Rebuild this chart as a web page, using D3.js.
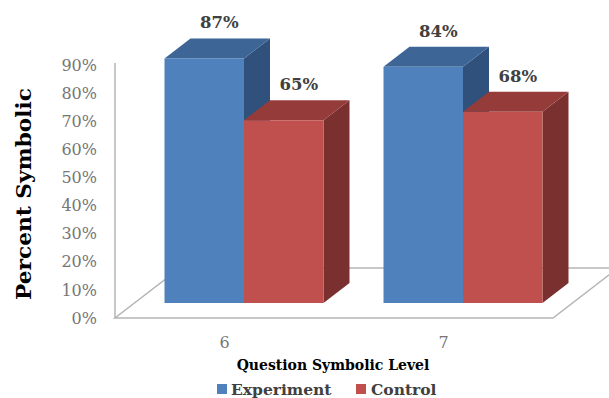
<!DOCTYPE html>
<html>
<head>
<meta charset="utf-8">
<script src="https://cdn.jsdelivr.net/npm/d3@7/dist/d3.min.js"></script>
<style>
  html, body { margin: 0; padding: 0; background: #ffffff; }
  svg { display: block; }
</style>
</head>
<body>
<svg id="chart" width="609" height="398"></svg>
<script>
// ---- data ----
const categories = ["6", "7"];
const seriesNames = ["Experiment", "Control"];
const experimentValues = [0.87, 0.84];
const controlValues = [0.65, 0.68];
const yTickValues = [0, 0.1, 0.2, 0.3, 0.4, 0.5, 0.6, 0.7, 0.8, 0.9];
const yTitle = "Percent Symbolic";
const xTitle = "Question Symbolic Level";

// ---- styles ----
const colors = {
  Experiment: { front: "#4f81bd", top: "#3d6596", side: "#30517c" },
  Control:    { front: "#c0504d", top: "#953c3a", side: "#7a302e" }
};
const serifFont = "'DejaVu Serif', 'Liberation Serif', serif";

const svg = d3.select("#chart");

// scales (front plane)
const x = d3.scaleBand().domain(categories).range([115, 553])
  .paddingInner(0.274).paddingOuter(0.137);
const xs = d3.scaleBand().domain(seriesNames).range([0, x.bandwidth()]);
const y = d3.scaleLinear().domain([0, 0.9]).range([318, 65]);

// depth projection
const DX = 65, DY = 50;
const P = (xf, v, d) => [xf + d * DX, y(v) - d * DY];
const D0 = 0.3, D1 = 0.7;

const rows = [];
categories.forEach((c, i) => {
  rows.push({ cat: c, series: "Experiment", value: experimentValues[i] });
  rows.push({ cat: c, series: "Control", value: controlValues[i] });
});

// floor
const gridColor = "#b5b5b5";
const floor = [P(115, 0, 0), P(553, 0, 0), P(553, 0, 1), P(115, 0, 1)];
svg.append("polygon")
  .attr("points", floor.map(p => p.join(",")).join(" "))
  .attr("fill", "#ffffff")
  .attr("stroke", gridColor)
  .attr("stroke-width", 1.5);

// vertical axis line
svg.append("line")
  .attr("x1", 115).attr("x2", 115)
  .attr("y1", y(0.9) - 2).attr("y2", y(0))
  .attr("stroke", gridColor).attr("stroke-width", 1.5);

// bars (left to right)
const barG = svg.append("g");
rows.forEach(r => {
  const x0 = x(r.cat) + xs(r.series);
  const x1 = x0 + xs.bandwidth();
  const col = colors[r.series];
  const pts = (arr) => arr.map(p => p.join(",")).join(" ");
  // side face (right)
  barG.append("polygon")
    .attr("points", pts([P(x1, 0, D0), P(x1, r.value, D0), P(x1, r.value, D1), P(x1, 0, D1)]))
    .attr("fill", col.side);
  // top face
  barG.append("polygon")
    .attr("points", pts([P(x0, r.value, D0), P(x1, r.value, D0), P(x1, r.value, D1), P(x0, r.value, D1)]))
    .attr("fill", col.top);
  // front face
  const f0 = P(x0, r.value, D0), f1 = P(x1, 0, D0);
  barG.append("rect")
    .attr("x", f0[0]).attr("y", f0[1])
    .attr("width", f1[0] - f0[0]).attr("height", f1[1] - f0[1])
    .attr("fill", col.front);
  // data label
  const c = P((x0 + x1) / 2, r.value, D1);
  barG.append("text")
    .attr("x", c[0] - 11).attr("y", c[1] - 10)
    .attr("text-anchor", "middle")
    .attr("font-family", serifFont)
    .attr("font-weight", "bold")
    .attr("font-size", 16.5)
    .attr("fill", "#404040")
    .text(d3.format(".0%")(r.value));
});

// y axis
const yAxis = svg.append("g")
  .attr("transform", "translate(115,0)")
  .call(d3.axisLeft(y).tickValues(yTickValues).tickFormat(d3.format(".0%"))
    .tickSize(0).tickPadding(18));
yAxis.select(".domain").remove();
yAxis.selectAll("text")
  .attr("font-family", serifFont)
  .attr("font-size", 16)
  .attr("fill", "#767676");

// x axis
const xAxis = svg.append("g")
  .attr("transform", `translate(0,${y(0)})`)
  .call(d3.axisBottom(x).tickSize(0).tickPadding(19));
xAxis.select(".domain").remove();
xAxis.selectAll("text")
  .attr("font-family", serifFont)
  .attr("font-size", 16)
  .attr("fill", "#767676");

// axis titles
svg.append("text")
  .attr("transform", "translate(31,194) rotate(-90)")
  .attr("text-anchor", "middle")
  .attr("font-family", serifFont)
  .attr("font-weight", "bold")
  .attr("font-size", 21)
  .attr("fill", "#000000")
  .attr("textLength", 212)
  .attr("lengthAdjust", "spacingAndGlyphs")
  .text(yTitle);

svg.append("text")
  .attr("x", 333).attr("y", 370)
  .attr("text-anchor", "middle")
  .attr("font-family", serifFont)
  .attr("font-weight", "bold")
  .attr("font-size", 14)
  .attr("fill", "#000000")
  .text(xTitle);

// legend
const legendItems = [
  { name: seriesNames[0], sx: 217, tx: 231 },
  { name: seriesNames[1], sx: 356, tx: 371 }
];
legendItems.forEach(it => {
  svg.append("rect")
    .attr("x", it.sx).attr("y", 384)
    .attr("width", 10).attr("height", 10)
    .attr("fill", colors[it.name].front);
  svg.append("text")
    .attr("x", it.tx).attr("y", 394.5)
    .attr("font-family", serifFont)
    .attr("font-weight", "bold")
    .attr("font-size", 15.5)
    .attr("fill", "#404040")
    .text(it.name);
});
</script>
</body>
</html>
